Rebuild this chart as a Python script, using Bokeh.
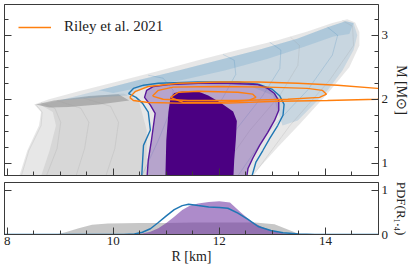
from bokeh.plotting import figure
from bokeh.models import LinearAxis, FixedTicker, Range1d, Legend, LegendItem, CustomLabelingPolicy
from bokeh.layouts import column
from bokeh.embed import file_html
from bokeh.resources import INLINE

# ---------------- data (R in km, M in solar masses) ----------------
# envelopes of the sampled M-R curve ensemble
gray_env_R = [8.19, 8.38, 8.60, 8.64, 8.51, 8.79, 9.35, 10.10, 10.85, 11.60, 12.35, 13.10, 13.66, 14.13, 14.41, 14.56, 14.64, 14.64, 14.45, 14.04, 13.53, 13.10, 12.50]
gray_env_M = [0.70, 1.20, 1.59, 1.80, 1.92, 2.00, 2.125, 2.28, 2.44, 2.61, 2.77, 2.92, 3.06, 3.19, 3.25, 3.20, 3.05, 2.84, 2.50, 2.09, 1.625, 1.25, 0.70]
gray_mid_R = [8.60, 8.80, 8.92, 8.86, 8.62, 8.98, 9.73, 10.19, 10.48, 10.63, 10.63]
gray_mid_M = [0.70, 1.20, 1.59, 1.80, 1.92, 1.98, 2.06, 2.09, 1.98, 1.52, 0.70]
gray_tip_R = [8.54, 8.88, 9.54, 10.10, 10.30, 9.73, 9.16, 8.79]
gray_tip_M = [1.92, 1.98, 2.05, 2.08, 1.98, 1.92, 1.88, 1.87]
blue_env_R = [8.98, 9.73, 10.48, 11.23, 11.98, 12.73, 13.48, 14.04, 14.38, 14.53, 14.60, 14.53, 14.32, 14.04, 13.48, 13.19, 13.01, 12.54, 11.60, 10.66, 10.29, 9.73]
blue_env_M = [1.98, 2.14, 2.30, 2.45, 2.61, 2.77, 2.95, 3.125, 3.22, 3.19, 3.00, 2.77, 2.45, 2.14, 1.67, 1.59, 2.06, 2.22, 2.23, 2.20, 2.06, 2.03]
blue_rim_R = [9.73, 10.48, 11.23, 11.98, 12.73, 13.48, 14.04, 14.38, 14.53, 14.45, 14.15, 13.60, 12.90, 12.10, 11.30, 10.60, 10.00]
blue_rim_M = [2.14, 2.30, 2.45, 2.61, 2.77, 2.95, 3.125, 3.22, 3.19, 3.02, 2.98, 2.82, 2.63, 2.45, 2.30, 2.20, 2.10]

# representative individual curves
gray_curves_R = [
    [8.23, 8.41, 8.64, 8.66, 8.54],
    [8.69, 8.94, 9.01, 8.90, 8.64],
    [9.26, 9.46, 9.54, 9.39, 8.94],
    [9.82, 10.03, 10.10, 9.95, 9.44],
    [11.88, 12.58, 13.14, 13.48, 13.51, 13.34],
    [12.54, 13.33, 14.08, 14.53, 14.51, 14.32],
]
gray_curves_M = [
    [0.70, 1.20, 1.59, 1.80, 1.92],
    [0.70, 1.23, 1.64, 1.86, 1.95],
    [0.70, 1.23, 1.64, 1.86, 1.98],
    [0.70, 1.23, 1.64, 1.89, 2.02],
    [0.70, 1.52, 2.06, 2.53, 2.84, 2.97],
    [0.70, 1.59, 2.30, 2.84, 3.14, 3.23],
]
blue_curves_R = [
    [10.48, 10.85, 11.08, 11.13, 10.94, 10.66],
    [11.13, 11.69, 12.07, 12.31, 12.28, 12.07],
    [11.69, 12.31, 12.82, 13.14, 13.16, 12.95],
    [12.26, 12.95, 13.66, 14.13, 14.23, 14.04],
]
blue_curves_M = [
    [0.70, 1.36, 1.83, 2.14, 2.33, 2.375],
    [0.70, 1.52, 2.03, 2.39, 2.61, 2.70],
    [0.70, 1.52, 2.06, 2.48, 2.77, 2.89],
    [0.70, 1.52, 2.14, 2.69, 3.00, 3.125],
]

# credible regions
outer_R = [10.63, 10.66, 10.72, 10.79, 10.70, 10.59, 10.63, 10.76, 11.04, 11.60, 12.16, 12.73, 12.91, 13.04, 13.12, 13.12, 13.04, 12.91, 12.76, 12.63, 12.54, 12.50]
outer_M = [0.70, 1.05, 1.36, 1.78, 1.91, 2.03, 2.14, 2.20, 2.23, 2.25, 2.25, 2.23, 2.17, 2.09, 1.98, 1.83, 1.67, 1.48, 1.28, 1.08, 0.92, 0.70]
core_R = [10.98, 11.00, 11.04, 11.08, 11.15, 11.30, 11.60, 11.79, 12.01, 12.26, 12.33, 12.31, 12.28, 12.26]
core_M = [0.70, 1.36, 1.80, 2.03, 2.10, 2.12, 2.12, 2.06, 1.955, 1.81, 1.66, 1.36, 1.05, 0.70]
bluec_R = [10.53, 10.57, 10.70, 10.66, 10.55, 10.43, 10.29, 10.38, 10.57, 10.85, 11.60, 12.35, 12.76, 12.99, 13.14, 13.22, 13.20, 13.10, 12.95, 12.82, 12.69, 12.58]
bluec_M = [0.70, 1.28, 1.52, 1.80, 1.94, 2.03, 2.09, 2.17, 2.22, 2.25, 2.27, 2.27, 2.23, 2.16, 2.05, 1.92, 1.75, 1.59, 1.39, 1.20, 1.02, 0.70]

# Riley et al. 2021 contours
riley_R = [
    [10.31, 10.42, 10.66, 11.23, 11.98, 12.73, 13.48, 14.23, 14.98, 15.73, 14.98, 14.04, 13.10, 12.16, 11.23, 10.66, 10.38, 10.31],
    [10.74, 10.85, 11.13, 11.98, 12.91, 13.66, 13.94, 14.02, 13.89, 13.29, 12.35, 11.41, 10.94, 10.74],
    [11.08, 11.23, 11.60, 12.35, 12.63, 12.69, 12.54, 11.98, 11.32, 11.08],
]
riley_M = [
    [2.03, 2.125, 2.20, 2.25, 2.27, 2.27, 2.25, 2.22, 2.17, 2.09, 2.00, 1.98, 1.97, 1.94, 1.94, 1.95, 1.98, 2.03],
    [2.05, 2.14, 2.19, 2.20, 2.19, 2.17, 2.14, 2.08, 2.03, 2.00, 1.98, 1.98, 2.00, 2.05],
    [2.03, 2.11, 2.125, 2.11, 2.08, 2.03, 1.98, 1.95, 1.95, 2.03],
]

# PDF of R_1.4
pdf_gray_R = [8.75, 8.92, 9.1, 9.35, 9.6, 9.9, 10.5, 11.0, 11.5, 12.0, 12.67, 13.04, 13.29, 13.48, 13.6]
pdf_gray_P = [0.0, 0.0, 0.05, 0.14, 0.22, 0.25, 0.26, 0.26, 0.27, 0.27, 0.27, 0.23, 0.11, 0.02, 0.0]
pdf_purple_R = [10.4, 10.55, 10.7, 10.85, 11.0, 11.15, 11.3, 11.45, 11.6, 11.8, 12.0, 12.2, 12.4, 12.6, 12.8, 13.0, 13.2, 13.4]
pdf_purple_P = [0.0, 0.02, 0.06, 0.14, 0.26, 0.40, 0.55, 0.65, 0.70, 0.73, 0.75, 0.72, 0.50, 0.30, 0.17, 0.08, 0.03, 0.0]
pdf_blue_R = [7.9, 10.2, 10.4, 10.55, 10.7, 10.85, 11.0, 11.15, 11.3, 11.42, 11.6, 11.8, 12.0, 12.16, 12.35, 12.54, 12.73, 12.97, 13.2, 13.5, 13.8, 15.1]
pdf_blue_P = [0.0, 0.0, 0.01, 0.05, 0.13, 0.27, 0.42, 0.56, 0.65, 0.68, 0.65, 0.62, 0.61, 0.59, 0.48, 0.34, 0.18, 0.09, 0.04, 0.01, 0.0, 0.0]

x_major = [8, 10, 12, 14]
x_minor = [8.5, 9, 9.5, 10.5, 11, 11.5, 12.5, 13, 13.5, 14.5]
m_major = [1, 2, 3]
m_minor = [1.25, 1.5, 1.75, 2.25, 2.5, 2.75, 3.25]
p_major = [0, 1]

FONT = "Liberation Serif"
AX = "#3a3a3a"
ORANGE = "#ff7f0e"
BLUE = "#1f77b4"

hide_labels = CustomLabelingPolicy(code="for (const i of indices) { indices.unset(i) }\nreturn indices")


def style_axis(ax, labels):
    ax.axis_line_color = AX
    ax.major_tick_line_color = AX
    ax.minor_tick_line_color = AX
    ax.major_tick_in = 7
    ax.major_tick_out = 0
    ax.minor_tick_in = 4
    ax.minor_tick_out = 0
    ax.major_label_text_font = FONT
    ax.axis_label_text_font = FONT
    ax.axis_label_text_font_style = "normal"
    ax.axis_label_text_color = "#222222"
    ax.major_label_text_color = "#222222"
    if labels:
        ax.major_label_text_font_size = "13px"
        ax.major_label_standoff = 2
        ax.axis_label_text_font_size = "14px"
        ax.axis_label_standoff = 1
    else:
        ax.major_label_text_font_size = "1px"
        ax.major_label_standoff = 0
        ax.major_label_policy = hide_labels


# ---------------- top panel ----------------
top = figure(frame_width=374, frame_height=171, x_range=Range1d(7.95, 15.0),
             y_range=Range1d(0.81, 3.48), output_backend="svg", toolbar_location=None,
             y_axis_location="right", min_border=0, min_border_top=4, min_border_bottom=0,
             background_fill_color="white", border_fill_color="white")
top.grid.visible = False
top.outline_line_color = AX

top.patch(gray_env_R, gray_env_M, fill_color="#c4c4c4", fill_alpha=0.4, line_alpha=0)
top.patch(gray_mid_R, gray_mid_M, fill_color="#a0a0a0", fill_alpha=0.22, line_alpha=0)
top.patch(gray_tip_R, gray_tip_M, fill_color="#707070", fill_alpha=0.4, line_alpha=0)
top.patch(blue_env_R, blue_env_M, fill_color="#5b9ac8", fill_alpha=0.22, line_alpha=0)
top.patch(blue_rim_R, blue_rim_M, fill_color="#3a88c0", fill_alpha=0.18, line_alpha=0)
top.multi_line(gray_curves_R, gray_curves_M, line_color="#9a9a9a", line_alpha=0.35, line_width=0.6)
top.multi_line(blue_curves_R, blue_curves_M, line_color=BLUE, line_alpha=0.3, line_width=0.6)

top.patch(outer_R, outer_M, fill_color="#7b52ab", fill_alpha=0.45, line_alpha=0)
top.patch(core_R, core_M, fill_color="#4b0082", fill_alpha=1.0, line_alpha=0)
top.line(bluec_R, bluec_M, line_color=BLUE, line_width=1.4)
top.line(outer_R, outer_M, line_color="#5a189a", line_width=1.4)
r_riley = top.multi_line(riley_R, riley_M, line_color=ORANGE, line_width=1.4)

x_top = top.xaxis[0]
x_top.ticker = FixedTicker(ticks=x_major, minor_ticks=x_minor)
style_axis(x_top, False)

y_r = top.yaxis[0]
y_r.ticker = FixedTicker(ticks=m_major, minor_ticks=m_minor)
style_axis(y_r, True)
y_r.axis_label = "M [M\u2299]"
y_r.major_label_standoff = 3
y_r.axis_label_standoff = 3

y_l = LinearAxis(ticker=FixedTicker(ticks=m_major, minor_ticks=m_minor))
style_axis(y_l, False)
top.add_layout(y_l, "left")

legend = Legend(items=[LegendItem(label="Riley et al. 2021", renderers=[r_riley])],
                location="top_left", margin=0, padding=14, spacing=0,
                glyph_width=33, glyph_height=14, label_height=14, label_standoff=13,
                label_text_font=FONT, label_text_font_size="15px", label_text_color="#222222",
                border_line_alpha=0, background_fill_alpha=0)
top.add_layout(legend)

# ---------------- bottom panel ----------------
bot = figure(frame_width=374, frame_height=52, x_range=top.x_range,
             y_range=Range1d(0, 1.17), output_backend="svg", toolbar_location=None,
             y_axis_location="right", min_border=0, min_border_top=3,
             background_fill_color="white", border_fill_color="white")
bot.grid.visible = False
bot.outline_line_color = AX

bot.varea(x=pdf_gray_R, y1=[0] * len(pdf_gray_R), y2=pdf_gray_P, fill_color="#b4b4b4", fill_alpha=0.75)
bot.varea(x=pdf_purple_R, y1=[0] * len(pdf_purple_R), y2=pdf_purple_P, fill_color="#6a2c9e", fill_alpha=0.55)
bot.line(pdf_blue_R, pdf_blue_P, line_color=BLUE, line_width=1.5)

x_b = bot.xaxis[0]
x_b.ticker = FixedTicker(ticks=x_major, minor_ticks=x_minor)
style_axis(x_b, True)
x_b.axis_label = "R [km]"

y_rb = bot.yaxis[0]
y_rb.ticker = FixedTicker(ticks=p_major, minor_ticks=[])
style_axis(y_rb, True)
y_rb.axis_label = "PDF(R\u2081.\u2084)"
y_rb.axis_label_text_font_size = "13px"
y_rb.major_label_standoff = 3
y_rb.axis_label_standoff = 3

y_lb = LinearAxis(ticker=FixedTicker(ticks=p_major, minor_ticks=[]))
style_axis(y_lb, False)
bot.add_layout(y_lb, "left")

layout = column(top, bot, spacing=0)
open("out.html", "w").write(file_html(layout, INLINE))
